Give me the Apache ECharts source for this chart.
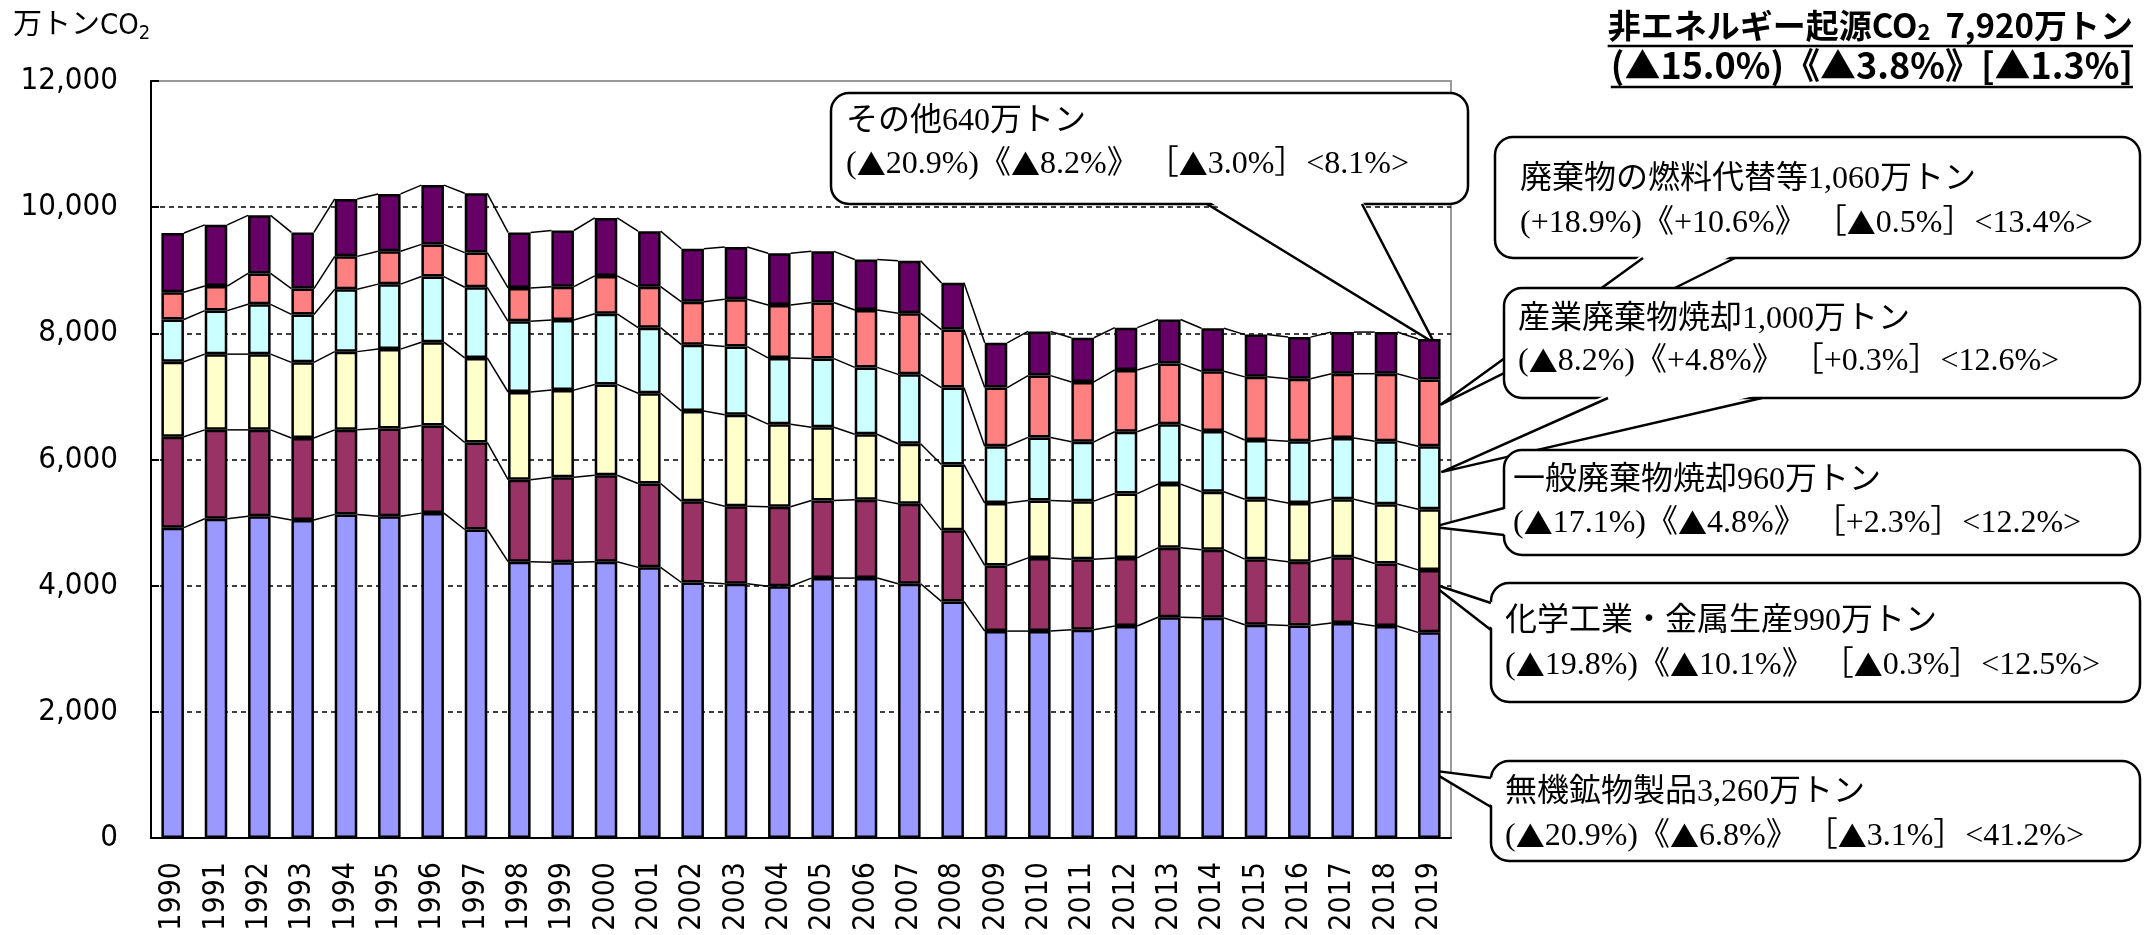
<!DOCTYPE html>
<html>
<head>
<meta charset="utf-8">
<script src="https://cdn.jsdelivr.net/npm/echarts@6/dist/echarts.min.js"></script>
<style>
  html, body { margin: 0; padding: 0; background: #fff; }
  #chart { width: 2151px; height: 935px; }
</style>
</head>
<body>
<div id="chart"></div>
<script>
// 年度
var years = ['1990','1991','1992','1993','1994','1995','1996','1997','1998','1999',
             '2000','2001','2002','2003','2004','2005','2006','2007','2008','2009',
             '2010','2011','2012','2013','2014','2015','2016','2017','2018','2019'];
// 無機鉱物製品
var inorganic = [4920,5060,5100,5040,5130,5100,5150,4890,4380,4370,
                 4380,4290,4050,4030,3990,4120,4120,4030,3750,3280,
                 3280,3300,3360,3500,3490,3380,3370,3410,3360,3260];
// 化学工業・金属生産
var chemMetal = [1440,1410,1370,1300,1340,1390,1390,1380,1300,1350,
                 1370,1330,1290,1230,1260,1230,1240,1270,1130,1040,
                 1160,1120,1080,1100,1080,1040,1010,1040,990,990];
// 一般廃棄物焼却
var municipal = [1190,1200,1200,1200,1240,1260,1320,1340,1390,1380,
                 1440,1430,1430,1450,1310,1160,1040,950,1040,990,
                 910,920,1020,1010,920,950,930,920,940,960];
// 産業廃棄物焼却
var industrial = [670,690,790,760,990,1030,1040,1120,1120,1110,
                  1120,1040,1050,1080,1050,1090,1060,1100,1220,900,
                  1000,940,980,950,960,940,980,970,1000,1000];
// 廃棄物の燃料代替等
var wasteFuel = [430,390,490,410,520,520,510,550,530,530,
                 600,650,680,750,840,890,910,970,920,930,
                 980,950,980,960,950,1000,990,1020,1070,1060];
// その他
var others = [940,970,920,890,910,910,940,940,880,890,
              920,880,840,830,820,810,800,830,740,710,
              700,700,670,700,680,670,660,660,660,640];

var layers = [inorganic, chemMetal, municipal, industrial, wasteFuel, others];
var colors = ['#9999FF', '#993366', '#FFFFCC', '#CCFFFF', '#FF8080', '#660066'];
var names = ['無機鉱物製品', '化学工業・金属生産', '一般廃棄物焼却', '産業廃棄物焼却', '廃棄物の燃料代替等', 'その他'];

// cumulative tops of each layer, used for the connecting lines
var cumTops = layers.map(function (_, k) {
  return years.map(function (__, i) {
    var s = 0;
    for (var j = 0; j <= k; j++) s += layers[j][i];
    return s;
  });
});

var axisFont = '"DejaVu Sans Condensed", "DejaVu Sans", sans-serif';
var serifFont = '"Liberation Serif", "Noto Sans CJK JP", serif';
var jpBold = '"Noto Sans CJK JP", sans-serif';

var series = layers.map(function (data, k) {
  return {
    name: names[k],
    type: 'bar',
    stack: 'total',
    data: data,
    barWidth: '52%',
    silent: true,
    itemStyle: { color: colors[k], borderColor: '#000', borderWidth: 2.5 }
  };
});

series.push({
  type: 'custom',
  silent: true,
  z: 1,
  data: years.slice(0, -1).map(function (y, i) { return [i, 0]; }),
  encode: { x: 0, y: 1 },
  renderItem: function (params, api) {
    var i = api.value(0);
    var half = api.size([1, 0])[0] * 0.26;
    var children = cumTops.map(function (tops) {
      var a = api.coord([i, tops[i]]);
      var b = api.coord([i + 1, tops[i + 1]]);
      return {
        type: 'line',
        shape: { x1: a[0] + half, y1: a[1], x2: b[0] - half, y2: b[1] },
        style: { stroke: '#000', lineWidth: 1.5 }
      };
    });
    return { type: 'group', children: children };
  }
});

var option = {
  animation: false,
  backgroundColor: '#fff',
  grid: { left: 151, top: 81, width: 1300, height: 757, show: true, borderColor: '#999', borderWidth: 2 },
  xAxis: {
    type: 'category',
    data: years,
    axisLine: { lineStyle: { color: '#000', width: 2 } },
    axisTick: { inside: true, length: 10, lineStyle: { color: '#000', width: 2 } },
    axisLabel: { rotate: 90, interval: 0, fontSize: 30, fontFamily: axisFont, color: '#000', margin: 24 }
  },
  yAxis: {
    type: 'value',
    min: 0,
    max: 12000,
    interval: 2000,
    axisLine: { show: true, lineStyle: { color: '#000', width: 2 } },
    axisTick: { show: true, inside: true, length: 8, lineStyle: { color: '#000', width: 2 } },
    axisLabel: {
      fontSize: 31, fontFamily: axisFont, color: '#000', margin: 33,
      formatter: function (v) { return v.toLocaleString('en-US'); }
    },
    splitLine: { lineStyle: { color: ['#000', '#000', '#000', '#000', '#000', '#000', '#999'], type: [5, 4], width: 1.5 } }
  },
  series: series
};

var chart = echarts.init(document.getElementById('chart'));
chart.setOption(option);

// ---- annotations ----
var ctx = document.createElement('canvas').getContext('2d');
function textWidth(font, s) { ctx.font = font; return ctx.measureText(s).width; }

// callout lines: serif text with a full-width CJK triangle
function richLine(s) {
  return s.split('▲').map(function (p) { return p ? '{n|' + p + '}' : ''; }).join('{t|▲}');
}
var calloutRich = {
  n: { fontSize: 32, fontFamily: serifFont, fill: '#000' },
  t: { fontSize: 29, fontFamily: '"Noto Sans CJK JP"', fill: '#000' }
};

var titleRight = 2133;
var t1a = '非エネルギー起源CO', t1b = '  7,920万トン', t2 = '(▲15.0%)《▲3.8%》[▲1.3%]';
var bFont = 'bold 33px ' + jpBold, sFont = 'bold 22px ' + jpBold, b2Font = 'bold 36px ' + jpBold;
var w1 = textWidth(bFont, t1a) + textWidth(sFont, '2') + textWidth(bFont, t1b);
var w2 = textWidth(b2Font, t2);

var graphics = [
  {
    type: 'text', x: 13, y: 26,
    style: {
      text: '{a|万トンCO}{s|2}', verticalAlign: 'middle',
      rich: {
        a: { fontSize: 29, fontFamily: axisFont + ', "Noto Sans CJK JP"', fill: '#000' },
        s: { fontSize: 20, fontFamily: axisFont, fill: '#000', padding: [15, 0, 0, 0] }
      }
    }
  },
  {
    type: 'text', x: titleRight, y: 25,
    style: {
      text: '{b|' + t1a + '}{s|2}{b|' + t1b + '}', align: 'right', verticalAlign: 'middle',
      rich: {
        b: { fontSize: 33, fontWeight: 'bold', fontFamily: jpBold, fill: '#000' },
        s: { fontSize: 22, fontWeight: 'bold', fontFamily: jpBold, fill: '#000', padding: [14, 0, 0, 0] }
      }
    }
  },
  { type: 'line', shape: { x1: titleRight - w1, y1: 46, x2: titleRight, y2: 46 }, style: { stroke: '#000', lineWidth: 2.5 } },
  {
    type: 'text', x: titleRight, y: 65,
    style: { text: t2, align: 'right', verticalAlign: 'middle', font: b2Font, fill: '#000' }
  },
  { type: 'line', shape: { x1: titleRight - w2, y1: 87, x2: titleRight, y2: 87 }, style: { stroke: '#000', lineWidth: 2.5 } }
];

var callouts = [
  { layer: 5, frac: 0.9, dx: 5, box: [831, 93, 637, 111], text: [846, 122, 165],
    base: [[1207, 204], [1362, 204]], side: 'bottom',
    lines: ['その他640万トン', '(▲20.9%)《▲8.2%》 ［▲3.0%］<8.1%>'] },
  { layer: 4, frac: 0.62, dx: 11, box: [1495, 137, 645, 121], text: [1520, 180, 224],
    base: [[1643, 258], [1735, 258]], side: 'bottom',
    lines: ['廃棄物の燃料代替等1,060万トン', '(+18.9%)《+10.6%》 ［▲0.5%］<13.4%>'] },
  { layer: 3, frac: 0.59, dx: 12, box: [1504, 288, 636, 110], text: [1518, 320, 362],
    base: [[1608, 398], [1762, 398]], side: 'bottom',
    lines: ['産業廃棄物焼却1,000万トン', '(▲8.2%)《+4.8%》 ［+0.3%］<12.6%>'] },
  { layer: 2, frac: 0.71, dx: 4, box: [1504, 450, 636, 105], text: [1513, 481, 524],
    base: [[1504, 508], [1504, 535]], side: 'left',
    lines: ['一般廃棄物焼却960万トン', '(▲17.1%)《▲4.8%》 ［+2.3%］<12.2%>'] },
  { layer: 1, frac: 0.79, dx: 1, box: [1491, 583, 649, 119], text: [1505, 622, 666],
    base: [[1491, 603], [1491, 630]], side: 'left',
    lines: ['化学工業・金属生産990万トン', '(▲19.8%)《▲10.1%》 ［▲0.3%］<12.5%>'] },
  { layer: 0, frac: 0.33, dx: 0, box: [1491, 761, 649, 100], text: [1505, 793, 837],
    base: [[1491, 778], [1491, 807]], side: 'left',
    lines: ['無機鉱物製品3,260万トン', '(▲20.9%)《▲6.8%》 ［▲3.1%］<41.2%>'] }
];

var last = years.length - 1;
callouts.forEach(function (c) {
  var k = c.layer;
  var bottom = k ? cumTops[k - 1][last] : 0;
  var p = chart.convertToPixel({ gridIndex: 0 }, [last, bottom + layers[k][last] * c.frac]);
  var tip = [p[0] + c.dx, p[1]];
  var inset = c.side === 'bottom' ? [0, -4] : [4, 0];
  var b1 = c.base[0], b2 = c.base[1];
  graphics.push(
    { type: 'rect', shape: { x: c.box[0], y: c.box[1], width: c.box[2], height: c.box[3], r: 18 },
      style: { fill: '#fff', stroke: '#000', lineWidth: 2.5 } },
    { type: 'polygon', shape: { points: [[b1[0] + inset[0], b1[1] + inset[1]], tip, [b2[0] + inset[0], b2[1] + inset[1]]] },
      style: { fill: '#fff' } },
    { type: 'polyline', shape: { points: [b1, tip, b2] },
      style: { fill: null, stroke: '#000', lineWidth: 2.5 } },
    { type: 'text', x: c.text[0], y: c.text[1],
      style: { text: richLine(c.lines[0]), rich: calloutRich, verticalAlign: 'middle' } },
    { type: 'text', x: c.text[0], y: c.text[2],
      style: { text: richLine(c.lines[1]), rich: calloutRich, verticalAlign: 'middle' } }
  );
});

chart.setOption({ graphic: graphics });
</script>
</body>
</html>
